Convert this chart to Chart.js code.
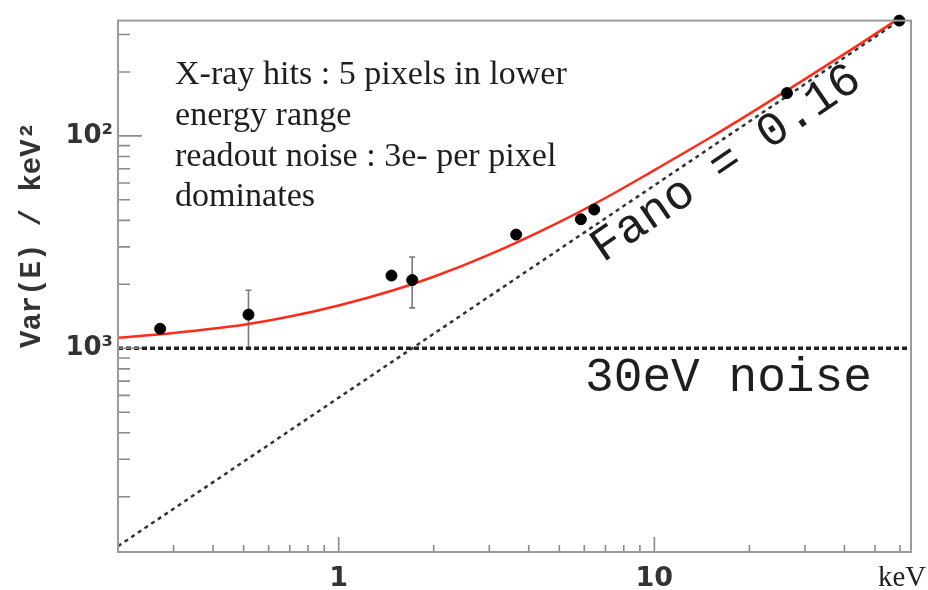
<!DOCTYPE html>
<html><head><meta charset="utf-8">
<script src="https://cdn.jsdelivr.net/npm/chart.js@4.4.0/dist/chart.umd.min.js"></script>
<style>html,body{margin:0;padding:0;background:#fff;}#wrap{width:928px;height:590px;position:relative;}</style>
</head><body><div id="wrap"><canvas id="c"></canvas></div>
<script>
// measured points (energy in keV, variance in keV^2)
const measEnergy = [0.272, 0.518, 1.47, 1.71, 3.65, 5.85, 6.45, 26.3, 59.7];
const measVar    = [1.235e-3, 1.44e-3, 2.2e-3, 2.095e-3, 3.43e-3, 4.05e-3, 4.5e-3, 1.59e-2, 3.49e-2];
const errLow     = [null, 1.0e-3, null, 1.55e-3, null, null, null, null, null];
const errHigh    = [null, 1.875e-3, null, 2.69e-3, null, null, null, null, null];
// red fit curve
const fitEnergy = [0.2, 0.3, 0.5, 0.7, 1, 1.5, 2, 3, 5, 7, 10, 15, 20, 30, 45, 60];
const fitVar    = [1.12e-3, 1.18e-3, 1.29e-3, 1.41e-3, 1.59e-3, 1.88e-3, 2.17e-3, 2.76e-3, 3.93e-3, 5.1e-3, 6.9e-3, 9.8e-3, 1.27e-2, 1.85e-2, 2.72e-2, 3.6e-2];
// Fano = 0.16 line and 30 eV noise line
const fanoEnergy = [0.2, 65];
const fanoVar    = [1.17e-4, 3.8e-2];
const noiseEnergy = [0.2, 65];
const noiseVar    = [1e-3, 1e-3];
// ticks
const xTickValues = [1, 10];
const xTickLabels = ['1', '10'];
const yTickValues = [1e-3, 1e-2];
const yTickLabels = ['10\u00B3', '10\u00B2'];
const xMinorTicks = [0.2, 0.3, 0.4, 0.5, 0.6, 0.7, 0.8, 0.9, 2, 3, 4, 5, 6, 7, 8, 9, 20, 30, 40, 50, 60];
const yMinorTicks = [2e-4, 3e-4, 4e-4, 5e-4, 6e-4, 7e-4, 8e-4, 9e-4, 2e-3, 3e-3, 4e-3, 5e-3, 6e-3, 7e-3, 8e-3, 9e-3, 2e-2, 3e-2];
// texts
const noteLines = ['X-ray hits : 5 pixels in lower', 'energy range', 'readout noise : 3e- per pixel', 'dominates'];
const fanoText = 'Fano = 0.16';
const noiseText = '30eV noise';
const yTitle = 'Var(E) / keV\u00B2';
const xUnit = 'keV';

const pts = (xs, ys) => xs.map((v, i) => ({x: v, y: ys[i]}));

function fitSize(ctx, text, family, weight, target) {
  ctx.font = weight + ' 40px "' + family + '"';
  return 40 * target / ctx.measureText(text).width;
}

const decor = {
  id: 'decor',
  beforeDatasetsDraw(chart) {
    const {ctx, scales: {x, y}} = chart;
    ctx.save();
    ctx.strokeStyle = '#7a7a7a'; ctx.lineWidth = 1.6;
    measEnergy.forEach((e, i) => {
      if (errLow[i] == null) return;
      const px = x.getPixelForValue(e), y1 = y.getPixelForValue(errLow[i]), y2 = y.getPixelForValue(errHigh[i]);
      ctx.beginPath();
      ctx.moveTo(px, y1); ctx.lineTo(px, y2);
      ctx.moveTo(px - 3, y1); ctx.lineTo(px + 3, y1);
      ctx.moveTo(px - 3, y2); ctx.lineTo(px + 3, y2);
      ctx.stroke();
    });
    ctx.restore();
  },
  afterDatasetsDraw(chart) {
    const {ctx, chartArea: a, scales: {x, y}} = chart;
    ctx.save();
    ctx.strokeStyle = '#8a8a8a'; ctx.lineWidth = 1.6;
    ctx.beginPath();
    xMinorTicks.forEach(v => { const p = x.getPixelForValue(v); ctx.moveTo(p, a.bottom); ctx.lineTo(p, a.bottom - 7); });
    xTickValues.forEach(v => { const p = x.getPixelForValue(v); ctx.moveTo(p, a.bottom); ctx.lineTo(p, a.bottom - 15); });
    yMinorTicks.forEach(v => { const p = y.getPixelForValue(v); ctx.moveTo(a.left, p); ctx.lineTo(a.left + 12, p); });
    yTickValues.forEach(v => { const p = y.getPixelForValue(v); ctx.moveTo(a.left, p); ctx.lineTo(a.left + 24, p); });
    ctx.stroke();
    ctx.strokeStyle = '#9a9a9a'; ctx.lineWidth = 2;
    ctx.strokeRect(a.left, a.top, a.right - a.left, a.bottom - a.top);
    ctx.restore();
  },
  afterDraw(chart) {
    const ctx = chart.ctx;
    ctx.save();
    ctx.fillStyle = '#1e1e1e';
    ctx.textBaseline = 'alphabetic';
    ctx.textAlign = 'left';
    const s = fitSize(ctx, noteLines[0], 'Liberation Serif', 'normal', 392);
    ctx.font = s + 'px "Liberation Serif"';
    const bl = [84, 125, 165.5, 206];
    noteLines.forEach((t, i) => ctx.fillText(t, 175, bl[i]));
    const s2 = fitSize(ctx, noiseText, 'Liberation Mono', 'normal', 287);
    ctx.font = s2 + 'px "Liberation Mono"';
    ctx.fillText(noiseText, 585, 391);
    ctx.save();
    ctx.translate(603, 263);
    ctx.rotate(-Math.atan2(215, 315.5));
    ctx.font = s2 + 'px "Liberation Mono"';
    ctx.fillText(fanoText, 0, 0);
    ctx.restore();
    ctx.save();
    ctx.fillStyle = '#333';
    ctx.translate(40, 235);
    ctx.rotate(-Math.PI / 2);
    ctx.textAlign = 'center';
    const s3 = fitSize(ctx, yTitle, 'Liberation Mono', 'bold', 226);
    ctx.font = 'bold ' + s3 + 'px "Liberation Mono"';
    ctx.fillText(yTitle, 0, 0);
    ctx.restore();
    const s4 = fitSize(ctx, xUnit, 'Liberation Serif', 'normal', 48);
    ctx.font = s4 + 'px "Liberation Serif"';
    ctx.fillStyle = '#222';
    ctx.fillText(xUnit, 878, 586);
    ctx.restore();
  }
};

new Chart(document.getElementById('c'), {
  type: 'scatter',
  data: {
    datasets: [
      {label: 'data', data: pts(measEnergy, measVar), showLine: false, pointRadius: 5.5, pointHoverRadius: 5.5,
       pointBackgroundColor: '#000', pointBorderColor: '#000', clip: false},
      {label: 'fit', data: pts(fitEnergy, fitVar), showLine: true, borderColor: '#ff2a1a', borderWidth: 2.5,
       pointRadius: 0, cubicInterpolationMode: 'monotone'},
      {label: 'fano', data: pts(fanoEnergy, fanoVar), showLine: true, borderColor: '#333', borderWidth: 2.5,
       borderDash: [4, 4], pointRadius: 0},
      {label: 'noise', data: pts(noiseEnergy, noiseVar), showLine: true, borderColor: '#222', borderWidth: 3.5,
       borderDash: [5, 3], pointRadius: 0}
    ]
  },
  options: {
    responsive: true, maintainAspectRatio: false, animation: false, devicePixelRatio: 1,
    layout: {padding: {top: 14, right: 17, left: 0, bottom: 0}},
    plugins: {legend: {display: false}, tooltip: {enabled: false}},
    scales: {
      x: {
        type: 'logarithmic', min: 0.2, max: 65,
        grid: {display: false, drawTicks: false}, border: {display: false},
        afterBuildTicks: s => { s.ticks = xTickValues.map(v => ({value: v})); },
        afterFit: s => { s.height = 38; },
        ticks: {autoSkip: false, maxRotation: 0, padding: 11, color: '#333',
          font: {family: 'DejaVu Sans', weight: 'bold', size: 27},
          callback: v => { const i = xTickValues.indexOf(v); return i >= 0 ? xTickLabels[i] : ''; }}
      },
      y: {
        type: 'logarithmic', min: 1.098e-4, max: 0.0349,
        grid: {display: false, drawTicks: false}, border: {display: false},
        afterBuildTicks: s => { s.ticks = yTickValues.map(v => ({value: v})); },
        afterFit: s => { s.width = 118; },
        ticks: {autoSkip: false, padding: 5, color: '#333',
          font: {family: 'DejaVu Sans', weight: 'bold', size: 26},
          callback: v => { const i = yTickValues.indexOf(v); return i >= 0 ? yTickLabels[i] : ''; }}
      }
    }
  },
  plugins: [decor]
});
</script></body></html>
